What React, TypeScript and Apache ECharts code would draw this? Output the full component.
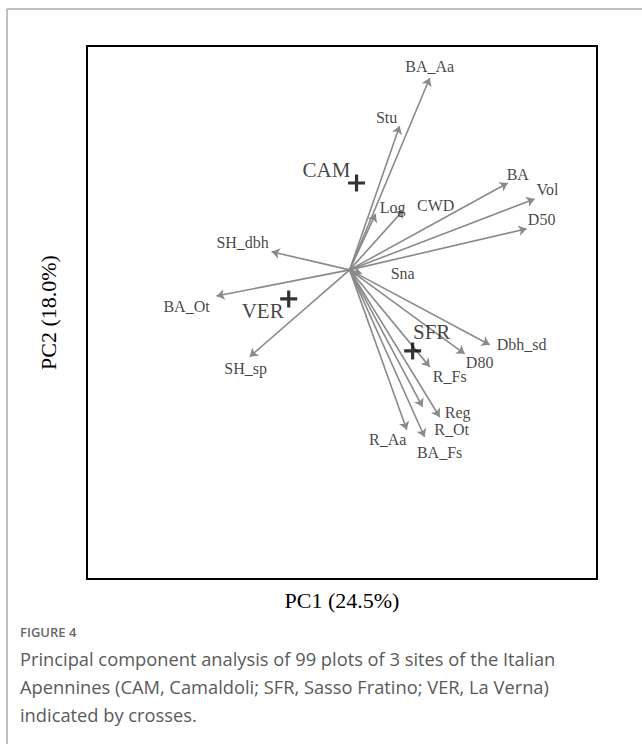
import React, { useEffect, useRef } from "react";
import * as echarts from "echarts";

// PCA loadings (biplot arrows), in axis units
const varNames = ["BA_Aa", "Stu", "Log", "CWD", "BA", "Vol", "D50", "SH_dbh", "BA_Ot", "SH_sp", "Sna", "Dbh_sd", "D80", "R_Fs", "Reg", "R_Ot", "R_Aa", "BA_Fs"];
const pc1Loadings = [0.314, 0.196, 0.102, 0.212, 0.62, 0.725, 0.694, -0.306, -0.522, -0.392, 0.047, 0.549, 0.451, 0.314, 0.353, 0.286, 0.224, 0.294];
const pc2Loadings = [0.72, 0.54, 0.21, 0.225, 0.326, 0.266, 0.154, 0.068, -0.098, -0.326, -0.015, -0.281, -0.315, -0.364, -0.552, -0.514, -0.6, -0.627];

// Site centroids (crosses)
const siteNames = ["CAM", "VER", "SFR"];
const sitePC1 = [0.027, -0.239, 0.247];
const sitePC2 = [0.326, -0.109, -0.304];

const xAxisName = "PC1 (24.5%)";
const yAxisName = "PC2 (18.0%)";
const figureLabel = "FIGURE 4";
const captionLines = [
  "Principal component analysis of 99 plots of 3 sites of the Italian",
  "Apennines (CAM, Camaldoli; SFR, Sasso Fratino; VER, La Verna)",
  "indicated by crosses.",
];

// label placement (pixel offsets from arrow tips / crosses)
const varLabelOffset: Record<string, [number, number]> = {
  BA_Aa: [0, -11], Stu: [-13, -8], Log: [17, -6], CWD: [32, -4], BA: [10, -8], Vol: [13, -9],
  D50: [15, -9], SH_dbh: [-29, -9], BA_Ot: [-30, 11], SH_sp: [-4, 12], Sna: [41, 0],
  Dbh_sd: [32, 0], D80: [15, 9], R_Fs: [20, 10], Reg: [18, -4], R_Ot: [29, 23], R_Aa: [-19, 10], BA_Fs: [15, 16],
};
const siteLabelOffset: Record<string, [number, number]> = {
  CAM: [-30, -13], VER: [-26, 12], SFR: [19, -19],
};

const SERIF = "Liberation Serif";
const PLUS = "path://M6.5,0 L9.5,0 L9.5,6.5 L16,6.5 L16,9.5 L9.5,9.5 L9.5,16 L6.5,16 L6.5,9.5 L0,9.5 L0,6.5 L6.5,6.5 Z";

export default function App() {
  const ref = useRef<HTMLDivElement>(null);
  useEffect(() => {
    if (!ref.current) return;
    const chart = echarts.init(ref.current, null, { renderer: "svg" });
    const arrowData = varNames.map((n, i) => ({ name: n, coords: [[0, 0], [pc1Loadings[i], pc2Loadings[i]]] }));
    const tipData = varNames.map((n, i) => ({
      name: n,
      value: [pc1Loadings[i], pc2Loadings[i]],
      label: { offset: varLabelOffset[n] },
    }));
    const siteData = siteNames.map((n, i) => ({
      name: n,
      value: [sitePC1[i], sitePC2[i]],
      label: { offset: siteLabelOffset[n] },
    }));
    chart.setOption({
      animation: false,
      backgroundColor: "#fff",
      grid: { left: 87, top: 46, width: 510, height: 533, show: true, borderColor: "#000", borderWidth: 2, backgroundColor: "transparent" },
      xAxis: {
        type: "value", min: -1.03, max: 0.97,
        name: xAxisName, nameLocation: "middle", nameGap: 10,
        nameTextStyle: { fontFamily: SERIF, fontSize: 22, color: "#000" },
        axisLine: { show: false }, axisTick: { show: false }, axisLabel: { show: false }, splitLine: { show: false },
      },
      yAxis: {
        type: "value", min: -1.16, max: 0.84,
        name: yAxisName, nameLocation: "middle", nameGap: 28, nameRotate: 90,
        nameTextStyle: { fontFamily: SERIF, fontSize: 22, color: "#000" },
        axisLine: { show: false }, axisTick: { show: false }, axisLabel: { show: false }, splitLine: { show: false },
      },
      series: [
        {
          type: "lines", coordinateSystem: "cartesian2d", silent: true,
          symbol: ["none", "arrow"], symbolSize: 8,
          lineStyle: { color: "#8a8a8a", width: 1.6, opacity: 1 },
          data: arrowData,
        },
        {
          type: "scatter", symbolSize: 0, silent: true,
          label: { show: true, position: "inside", formatter: "{b}", fontFamily: SERIF, fontSize: 16, color: "#111", align: "center", verticalAlign: "middle" },
          data: tipData,
        },
        {
          type: "scatter", symbol: PLUS, symbolSize: 17, silent: true,
          itemStyle: { color: "#000" },
          label: { show: true, position: "inside", formatter: "{b}", fontFamily: SERIF, fontSize: 21, color: "#111", align: "center", verticalAlign: "middle" },
          data: siteData,
        },
      ],
      graphic: [
        { type: "line", shape: { x1: 7, y1: 9, x2: 642, y2: 9 }, style: { stroke: "#aaa", lineWidth: 1.5 } },
        { type: "line", shape: { x1: 7, y1: 9, x2: 7, y2: 744 }, style: { stroke: "#aaa", lineWidth: 1.5 } },
        { type: "text", x: 20, y: 625, style: { text: figureLabel, font: "600 13px 'Open Sans'", fill: "#666" } },
        ...captionLines.map((t, i) => ({
          type: "text", x: 20, y: 649 + i * 28,
          style: { text: t, font: "18.3px 'Open Sans'", fill: "#5a5a5a" },
        })),
      ],
    });
    return () => chart.dispose();
  }, []);
  return <div ref={ref} style={{ position: "fixed", left: 0, top: 0, width: 642, height: 744 }} />;
}
